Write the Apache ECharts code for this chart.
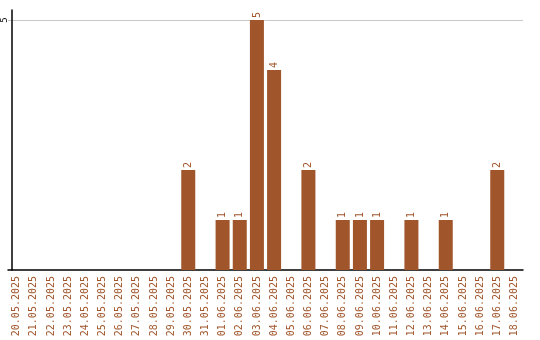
<!DOCTYPE html>
<html>
<head>
<meta charset="utf-8">
<script src="https://cdn.jsdelivr.net/npm/echarts@6/dist/echarts.min.js"></script>
<style>
  html, body { margin: 0; padding: 0; background: #fff; }
  #chart { width: 540px; height: 340px; }
</style>
</head>
<body>
<div id="chart"></div>
<script>
const days = [
    '20.05.2025', '21.05.2025', '22.05.2025', '23.05.2025', '24.05.2025',
    '25.05.2025', '26.05.2025', '27.05.2025', '28.05.2025', '29.05.2025',
    '30.05.2025', '31.05.2025', '01.06.2025', '02.06.2025', '03.06.2025',
    '04.06.2025', '05.06.2025', '06.06.2025', '07.06.2025', '08.06.2025',
    '09.06.2025', '10.06.2025', '11.06.2025', '12.06.2025', '13.06.2025',
    '14.06.2025', '15.06.2025', '16.06.2025', '17.06.2025', '18.06.2025'
];
const counts = [
    0, 0, 0, 0, 0,
    0, 0, 0, 0, 0,
    2, 0, 1, 1, 5,
    4, 0, 2, 0, 1,
    1, 1, 0, 1, 0,
    1, 0, 0, 2, 0
];

const brown = '#a0552a';
const mono = '"DejaVu Sans Mono", monospace';

var chart = echarts.init(document.getElementById('chart'));
var option = {
    animation: false,
    grid: {
        left: 7,
        right: 17,
        top: 10,
        bottom: 70
    },
    xAxis: {
        type: 'category',
        data: days,
        axisLine: {lineStyle: {color: '#000', width: 1.5}},
        axisTick: {show: false},
        axisLabel: {
            interval: 0,
            rotate: 90,
            color: brown,
            fontFamily: mono,
            fontSize: 10,
            margin: 6
        }
    },
    yAxis: {
        type: 'value',
        min: 0,
        max: 5.2,
        interval: 5,
        offset: -4,
        axisLine: {show: true, lineStyle: {color: '#000', width: 1.5}},
        axisTick: {show: false},
        splitLine: {
            show: true,
            showMinLine: false,
            showMaxLine: false,
            lineStyle: {color: '#c8c8c8', width: 1}
        },
        axisLabel: {
            rotate: 90,
            color: '#000',
            fontFamily: mono,
            fontSize: 9,
            margin: 3,
            formatter: v => (v === 5 ? '5' : '')
        }
    },
    series: [{
        type: 'bar',
        data: counts,
        barWidth: 14,
        itemStyle: {color: brown},
        label: {
            show: true,
            position: 'top',
            rotate: 90,
            align: 'left',
            verticalAlign: 'middle',
            distance: 2,
            color: brown,
            fontFamily: mono,
            fontSize: 10,
            formatter: p => (p.value ? String(p.value) : '')
        }
    }]
};
chart.setOption(option);
</script>
</body>
</html>
